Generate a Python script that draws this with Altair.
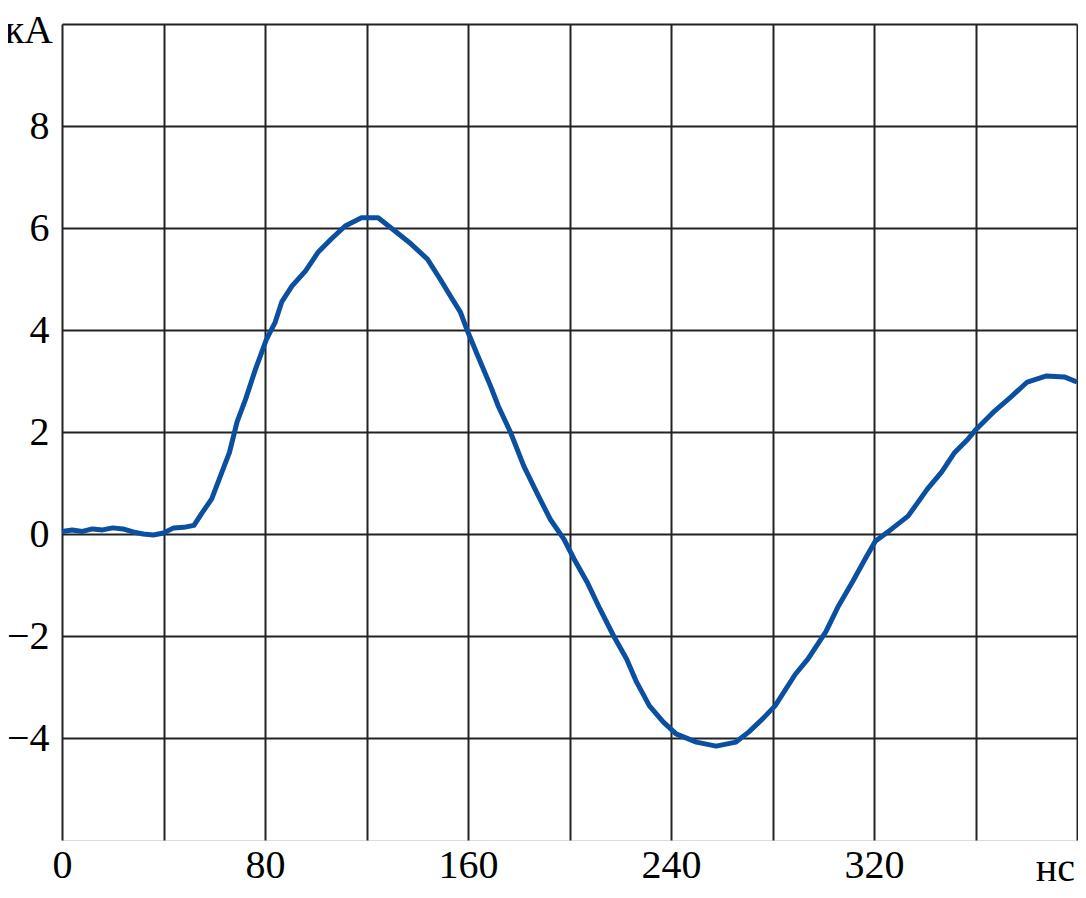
import altair as alt
import pandas as pd

# time (ns) and current (kA)
times = [0, 4, 8, 12, 16, 20, 24, 28, 32, 36, 40, 44, 48, 52, 55, 59, 62, 66, 69,
         72.4, 76.3, 80.6, 84, 86.6, 90.6, 96, 101, 106, 111.6, 118, 124.6, 129.7,
         137.5, 144, 149, 153, 157, 159.8, 163.8, 168.9, 172, 176.7, 182, 187,
         192.4, 197.8, 201.8, 206.9, 212, 217.4, 222.5, 226.4, 231.5, 237, 242,
         250, 257.8, 265.6, 270.7, 276, 281, 289, 294, 301, 306, 311.5, 316.5,
         320.5, 327, 333.4, 337.3, 341, 346.7, 351.8, 357, 360.4, 367.5, 374,
         380.4, 388, 395, 400]
current = [0.05, 0.08, 0.05, 0.1, 0.08, 0.12, 0.1, 0.04, 0.0, -0.02, 0.02, 0.12,
           0.13, 0.17, 0.4, 0.69, 1.08, 1.6, 2.2,
           2.65, 3.24, 3.82, 4.15, 4.55, 4.86, 5.16, 5.53, 5.78, 6.04, 6.2, 6.2, 6.0,
           5.69, 5.39, 5.0, 4.67, 4.35, 3.98, 3.5, 2.9, 2.5, 2.0, 1.33, 0.82,
           0.29, -0.1, -0.49, -0.94, -1.47, -2.0, -2.45, -2.9, -3.37, -3.69, -3.92,
           -4.08, -4.16, -4.08, -3.88, -3.63, -3.37, -2.75, -2.45, -1.92, -1.41,
           -0.94, -0.49, -0.14, 0.1, 0.35, 0.62, 0.88, 1.22, 1.6, 1.86, 2.06,
           2.41, 2.69, 2.98, 3.1, 3.08, 2.98]

x_ticks = [0, 40, 80, 120, 160, 200, 240, 280, 320, 360, 400]
y_ticks = [-4, -2, 0, 2, 4, 6, 8, 10]
x_unit = "нс"
y_unit = "кА"

df = pd.DataFrame({"t": times, "i": current})

FONT = "Liberation Serif"
W, H = 1015, 816

line = alt.Chart(df).mark_line(color="#0b50a0", strokeWidth=5, strokeJoin="round").encode(
    x=alt.X("t:Q", scale=alt.Scale(domain=[0, 400], nice=False),
            axis=alt.Axis(values=x_ticks, title=None, ticks=False, domain=False,
                          labelFlush=False,
                          labelExpr="datum.value % 80 == 0 && datum.value < 400 ? datum.label : ''",
                          labelFont=FONT, labelFontSize=40, labelColor="black",
                          labelPadding=5, gridColor="#222", gridWidth=2, gridOpacity=1)),
    y=alt.Y("i:Q", scale=alt.Scale(domain=[-6, 10], nice=False),
            axis=alt.Axis(values=y_ticks, title=None, ticks=False, domain=False,
                          labelFlush=False,
                          labelExpr="datum.value == 10 ? '' : datum.label",
                          labelFont=FONT, labelFontSize=40, labelColor="black",
                          labelPadding=13, gridColor="#222", gridWidth=2, gridOpacity=1)),
)

unit_df = pd.DataFrame({"u": [x_unit]})
xunit = alt.Chart(unit_df).mark_text(font=FONT, fontSize=40, color="black",
                                     align="right", baseline="alphabetic").encode(
    text="u:N", x=alt.value(1013), y=alt.value(857))
yunit_df = pd.DataFrame({"u": [y_unit]})
yunit = alt.Chart(yunit_df).mark_text(font=FONT, fontSize=40, color="black",
                                      align="right", baseline="alphabetic").encode(
    text="u:N", x=alt.value(-9), y=alt.value(19))

chart = alt.layer(line, xunit, yunit).properties(
    width=W, height=H,
    autosize=alt.AutoSizeParams(type="none"),
    padding={"left": 54, "top": 16, "right": 1, "bottom": 50},
).configure_view(stroke="#222", strokeWidth=2.5).configure(background="white")

chart.save("out.html", embed_options={"renderer": "svg", "actions": False})
